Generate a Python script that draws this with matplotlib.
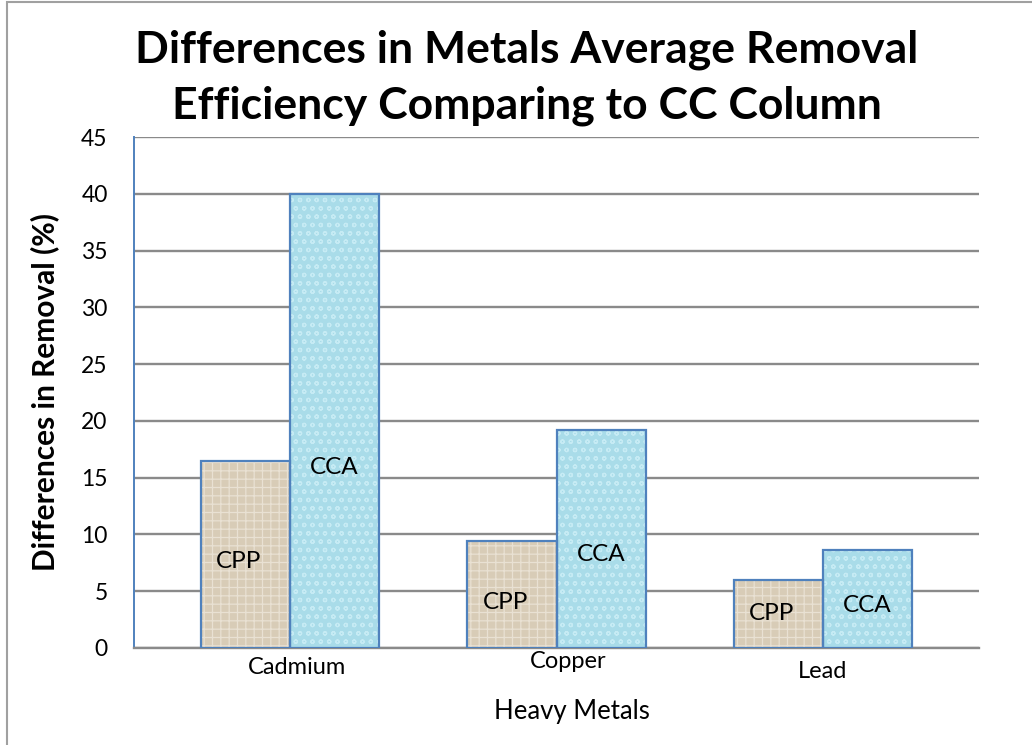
import matplotlib
matplotlib.use("Agg")
import matplotlib.pyplot as plt
from matplotlib.patches import Rectangle

categories = ["Cadmium", "Copper", "Lead"]
series_names = ["CPP", "CCA"]
cpp_values = [16.5, 9.4, 6.0]
cca_values = [40.0, 19.2, 8.6]
y_ticks = [0, 5, 10, 15, 20, 25, 30, 35, 40, 45]

# label placement (layout only)
cpp_label_y = [7.6, 4.0, 3.0]
cca_label_y = [15.9, 8.2, 3.7]
cat_label_dy = [-20, -13, -23]   # pixel offsets below axis
cat_label_dx = [0.026, 0.045, 0.0]

plt.rcParams['font.family'] = ['Lato', 'DejaVu Sans']
plt.rcParams['hatch.linewidth'] = 0.9

fig = plt.figure(figsize=(10.32, 7.45), dpi=100)
ax = fig.add_axes([134/1032, 1-648/745, (979-134)/1032, (648-137)/745])

w = 0.334
x = list(range(len(categories)))
xc = [i - w/2 for i in x]
xa = [i + w/2 for i in x]

# textured fills
ax.bar(xc, cpp_values, width=w, color='#d8ccb7', edgecolor='#e9e1d3', hatch='++', linewidth=0, zorder=3)
ax.bar(xa, cca_values, width=w, color='#a9dce9', edgecolor='#c6ebf4', hatch='oo', linewidth=0, zorder=3)
# outlines
ax.bar(xc, cpp_values, width=w, facecolor='none', edgecolor='#4f81bd', linewidth=1.6, zorder=4)
ax.bar(xa, cca_values, width=w, facecolor='none', edgecolor='#4f81bd', linewidth=1.6, zorder=4)

for i in x:
    ax.text(xc[i] - 0.025, cpp_label_y[i], series_names[0], ha='center', va='center', fontsize=17.5, zorder=5)
    ax.text(xa[i], cca_label_y[i], series_names[1], ha='center', va='center', fontsize=17.5, zorder=5)

ax.set_xlim(-0.585, 2.585)
ax.set_ylim(0, 45)
ax.set_yticks(y_ticks)
ax.set_yticklabels([str(t) for t in y_ticks], fontsize=16.5)
ax.tick_params(axis='y', length=0, pad=19)
ax.set_xticks([])
ax.grid(axis='y', color='#8a8a8a', linewidth=1.7, zorder=0)
ax.set_axisbelow(True)
for s in ['top', 'right']:
    ax.spines[s].set_visible(False)
ax.spines['left'].set_color('#4f81bd')
ax.spines['left'].set_linewidth(1.4)
ax.spines['bottom'].set_color('#8a8a8a')
ax.spines['bottom'].set_linewidth(1.7)

for i, c in enumerate(categories):
    ax.annotate(c, xy=(i + cat_label_dx[i], 0), xycoords=('data', 'axes fraction'),
                xytext=(0, cat_label_dy[i]*0.72), textcoords='offset points',
                ha='center', va='center', fontsize=17)

fig.text(572/1032, 1-712/745, "Heavy Metals", ha='center', va='center', fontsize=18.5)
fig.text(45/1032, 1-392/745, "Differences in Removal (%)", ha='center', va='center',
         rotation=90, fontsize=21.5, fontweight='bold')
fig.text(527/1032, 1-62/745, "Differences in Metals Average Removal",
         ha='center', va='baseline', fontsize=32, fontweight='bold')
fig.text(527/1032, 1-119/745, "Efficiency Comparing to CC Column",
         ha='center', va='baseline', fontsize=32, fontweight='bold')

fig.patches.append(Rectangle((7/1032, -0.1), 1.2, 1.1 - 2/745, transform=fig.transFigure,
                             fill=False, edgecolor='#a0a0a0', linewidth=1.5))

fig.savefig("out.png", dpi=100)
